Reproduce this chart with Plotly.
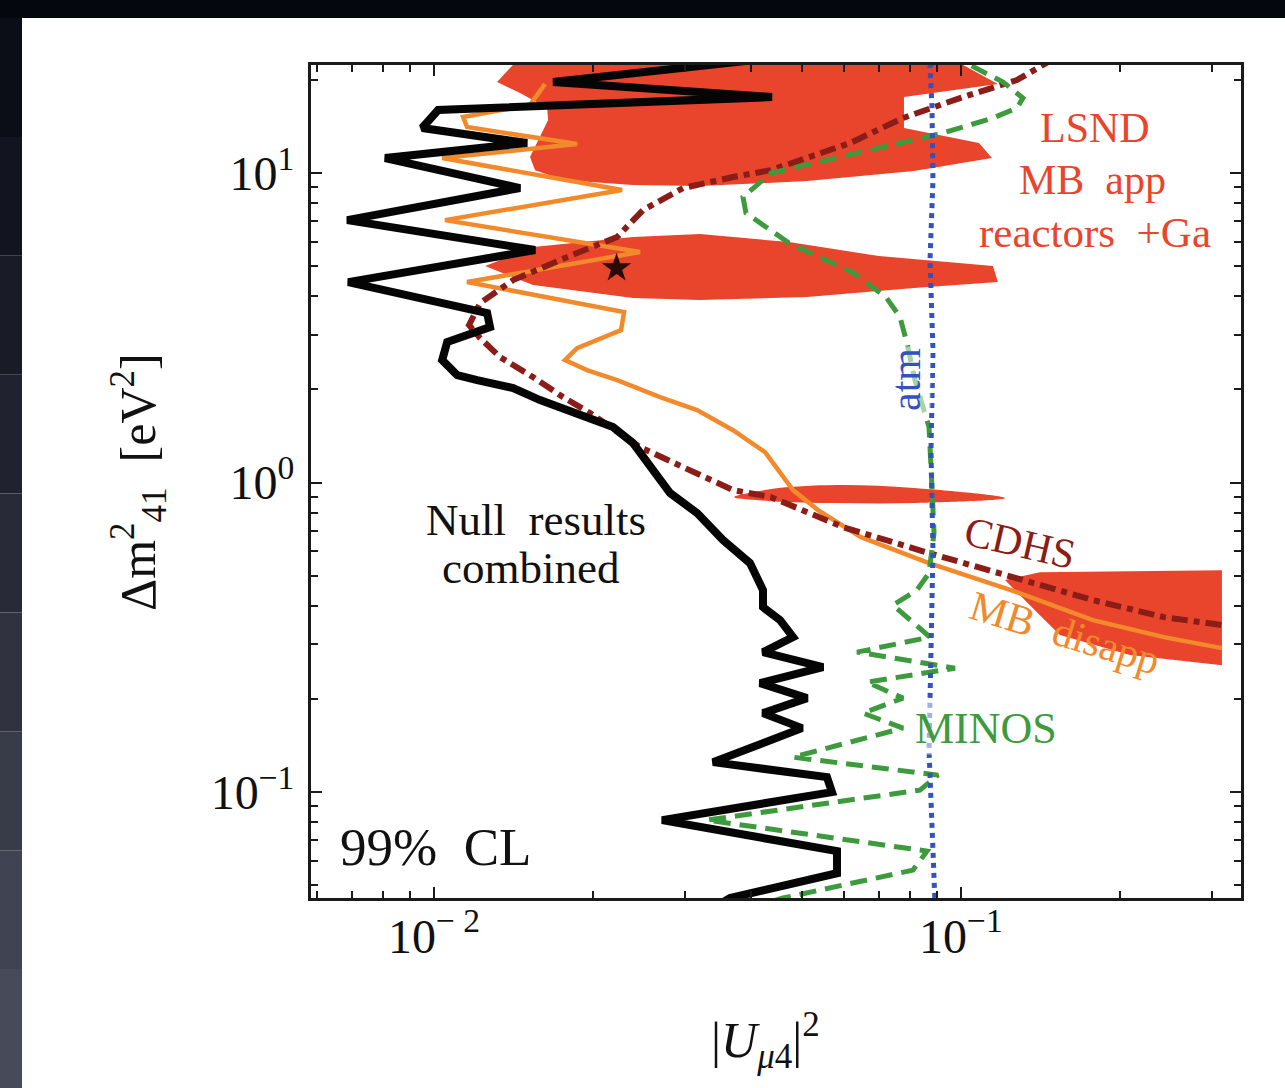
import math
import plotly.graph_objects as go

# ---------------- data ----------------
X_RANGE = [0.00584, 0.340]
Y_RANGE = [0.0455, 22.34]

X_TICKS = [0.01, 0.1]
X_TICKTEXT = ["10<sup>\u2212 2</sup>", "10<sup>\u22121</sup>"]
Y_TICKS = [0.1, 1, 10]
Y_TICKTEXT = ["10<sup>\u22121</sup>", "10<sup>0</sup>", "10<sup>1</sup>"]

# Null results combined (black)
NULL_X = [0.0495, 0.01682, 0.0438, 0.01018, 0.00949, 0.01502, 0.00807, 0.01456, 0.00684, 0.01555,
          0.00687, 0.01261, 0.01277, 0.01059, 0.01036, 0.01106, 0.01207, 0.01413, 0.01589, 0.01836,
          0.02186, 0.02386, 0.0257, 0.02805, 0.03156, 0.03535, 0.03977, 0.04101, 0.0421, 0.0421,
          0.04535, 0.048, 0.0421, 0.05472, 0.04155, 0.05104, 0.0421, 0.04993, 0.03384, 0.05568,
          0.05691, 0.02708, 0.05817, 0.05817, 0.03645, 0.0334]
NULL_Y = [24.06, 19.68, 17.60, 15.98, 13.98, 12.50, 11.18, 8.944, 7.047, 5.639,
          4.444, 3.529, 3.180, 2.844, 2.488, 2.225, 2.144, 2.020, 1.847, 1.690,
          1.511, 1.342, 1.122, 0.925, 0.797, 0.652, 0.5495, 0.4842, 0.4495, 0.396,
          0.3594, 0.3168, 0.2834, 0.2534, 0.2250, 0.2012, 0.18, 0.161, 0.125, 0.1118,
          0.1, 0.0812, 0.0645, 0.0547, 0.0455, 0.0416]

# MiniBooNE disappearance (orange)
MB_X = [0.01624, 0.01521, 0.01135, 0.01155, 0.01868, 0.01036, 0.02274, 0.01049, 0.0246, 0.01155,
        0.02294, 0.02264, 0.01868, 0.01772, 0.01951, 0.02225, 0.02685, 0.03156, 0.03693, 0.04248,
        0.048, 0.05354, 0.0646, 0.08697, 0.1244, 0.178, 0.2428, 0.3128]
MB_Y = [19.4, 16.6, 15.17, 14.08, 12.41, 11.18, 8.81, 7.047, 5.556, 4.444,
        3.556, 3.110, 2.720, 2.488, 2.309, 2.144, 1.889, 1.715, 1.477, 1.254,
        0.9458, 0.815, 0.6666, 0.5495, 0.4495, 0.3594, 0.3168, 0.2919]

# CDHS (dark red dash-dot)
CDHS_X = [0.1508, 0.1277, 0.09956, 0.07761, 0.06157, 0.0436, 0.03693, 0.02968, 0.02492, 0.02225,
          0.01788, 0.01413, 0.01223, 0.01165, 0.01223, 0.01334, 0.01541, 0.01757, 0.01977, 0.0246,
          0.02968, 0.03693, 0.0436, 0.05973, 0.08697, 0.1244, 0.178, 0.2428, 0.3141]
CDHS_Y = [23.53, 19.98, 17.47, 15.06, 12.50, 10.22, 9.707, 8.944, 7.595, 6.213,
          5.353, 4.511, 3.802, 3.228, 2.930, 2.544, 2.192, 1.889, 1.677, 1.302,
          1.122, 0.9458, 0.8977, 0.7179, 0.5919, 0.4951, 0.4173, 0.3675, 0.3464]

# MINOS (green dashed)
MINOS_X = [0.0945, 0.104, 0.1202, 0.1311, 0.1277, 0.115, 0.09244, 0.06431, 0.0436, 0.03857,
           0.03908, 0.04717, 0.06266, 0.07205, 0.07661, 0.07899, 0.08178, 0.08395, 0.08697, 0.0881,
           0.08889, 0.08697, 0.0825, 0.0743, 0.08735, 0.06349, 0.09741, 0.06632, 0.07761, 0.06517,
           0.07761, 0.048, 0.09045, 0.08359, 0.03296, 0.08621, 0.08109, 0.04595, 0.04155]
MINOS_Y = [24.06, 22.34, 19.68, 17.47, 16.22, 15.06, 13.47, 11.69, 10.0, 8.366,
           7.427, 5.940, 4.752, 3.975, 3.425, 2.823, 2.144, 1.847, 1.511, 0.9672,
           0.6867, 0.5102, 0.4495, 0.4020, 0.3168, 0.2834, 0.2515, 0.2266, 0.2012, 0.18,
           0.161, 0.1297, 0.1135, 0.1015, 0.0812, 0.0645, 0.0560, 0.0455, 0.0432]

# atmospheric (blue dotted)
ATM_X = [0.09006, 0.08735, 0.0881, 0.08848, 0.08735, 0.08848, 0.08773, 0.08848, 0.08773, 0.08697, 0.08848, 0.0893]
ATM_Y = [24.06, 22.0, 16.34, 9.493, 5.235, 2.681, 1.274, 0.605, 0.2875, 0.1367, 0.065, 0.0432]

# LSND + MB app + reactors + Ga allowed regions (red)
TOP_X = [0.01469, 0.01317, 0.01456, 0.01639, 0.01646, 0.01589, 0.01521, 0.01555, 0.01757, 0.02386,
         0.03197, 0.05104, 0.08143, 0.1145, 0.1082, 0.07795, 0.07795, 0.1175, 0.09324]
TOP_Y = [24.06, 19.68, 18.14, 16.22, 14.83, 13.07, 11.26, 10.22, 9.493, 9.146,
         9.078, 9.423, 10.15, 11.18, 12.50, 13.98, 17.60, 19.39, 24.06]
MID_X = [0.0125, 0.01541, 0.02386, 0.03197, 0.04717, 0.06988, 0.115, 0.1175, 0.08143, 0.05104, 0.03197, 0.02386, 0.01541]
MID_Y = [5.006, 5.767, 6.213, 6.353, 5.985, 5.393, 5.006, 4.444, 4.250, 3.975, 3.888, 3.946, 4.346]
SLIVER_X = [0.03709, 0.0436, 0.0579, 0.08143, 0.1212, 0.08143, 0.0579, 0.0436]
SLIVER_Y = [0.8977, 0.9528, 0.9815, 0.9598, 0.8910, 0.8587, 0.8587, 0.8712]
BR_X = [0.1212, 0.1412, 0.3128, 0.3128, 0.2093, 0.1541, 0.1412, 0.1266]
BR_Y = [0.4842, 0.5137, 0.5214, 0.2572, 0.2772, 0.3216, 0.3730, 0.4495]

BEST_X = [0.0222]
BEST_Y = [4.93]

# ---------------- styles ----------------
RED = "#e8452c"
ORANGE = "#f28a2c"
CDHS_C = "#8b1d18"
GREEN = "#3d9b3d"
BLUE = "#3352c0"
FONT = "Liberation Serif"

fig = go.Figure()

for xs, ys, shp in [(TOP_X, TOP_Y, "linear"), (MID_X, MID_Y, "linear"),
                    (SLIVER_X, SLIVER_Y, "spline"), (BR_X, BR_Y, "linear")]:
    fig.add_trace(go.Scatter(x=xs + xs[:1], y=ys + ys[:1], mode="lines", fill="toself",
                             fillcolor=RED, line=dict(width=0, color=RED, shape=shp),
                             hoverinfo="skip", showlegend=False))

fig.add_trace(go.Scatter(x=MB_X, y=MB_Y, mode="lines",
                         line=dict(color=ORANGE, width=4.5), showlegend=False))
fig.add_trace(go.Scatter(x=CDHS_X, y=CDHS_Y, mode="lines",
                         line=dict(color=CDHS_C, width=6, dash="16px,6px,6px,6px"), showlegend=False))
fig.add_trace(go.Scatter(x=MINOS_X, y=MINOS_Y, mode="lines",
                         line=dict(color=GREEN, width=5, dash="17px,9px"), showlegend=False))
fig.add_trace(go.Scatter(x=ATM_X, y=ATM_Y, mode="lines",
                         line=dict(color=BLUE, width=5, dash="5px,5px"), showlegend=False))
fig.add_trace(go.Scatter(x=NULL_X, y=NULL_Y, mode="lines",
                         line=dict(color="#050505", width=8), showlegend=False))
fig.add_trace(go.Scatter(x=BEST_X, y=BEST_Y, mode="markers",
                         marker=dict(symbol="star", size=22, color="#2a0a08"), showlegend=False))


def minor_vals(lo, hi):
    vals = []
    for e in range(-4, 3):
        for k in range(2, 10):
            v = k * 10 ** e
            if lo < v < hi:
                vals.append(v)
    return vals


axis_common = dict(
    type="log", showgrid=False, zeroline=False,
    showline=True, linewidth=3, linecolor="#1a1a1a", mirror="allticks",
    ticks="inside", ticklen=11, tickwidth=2, tickcolor="#1a1a1a",
    tickfont=dict(family=FONT, size=48, color="#111"),
)

fig.update_xaxes(
    **axis_common,
    range=[math.log10(X_RANGE[0]), math.log10(X_RANGE[1])],
    tickmode="array", tickvals=X_TICKS, ticktext=X_TICKTEXT,
    minor=dict(ticks="inside", ticklen=7, tickwidth=2, tickcolor="#1a1a1a",
               tickmode="array", tickvals=minor_vals(*X_RANGE)),
    ticklabelstandoff=-6,
)
fig.update_yaxes(
    **axis_common,
    range=[math.log10(Y_RANGE[0]), math.log10(Y_RANGE[1])],
    tickmode="array", tickvals=Y_TICKS, ticktext=Y_TICKTEXT,
    minor=dict(ticks="inside", ticklen=7, tickwidth=2, tickcolor="#1a1a1a",
               tickmode="array", tickvals=minor_vals(*Y_RANGE)),
    ticklabelstandoff=4,
)

W, H = 1285, 1088
ML, MR, MT, MB_ = 311, 44, 65, 190
PW, PH = W - ML - MR, H - MT - MB_


def px(xp):
    return (xp - ML) / PW


def py(yp):
    return (H - MB_ - yp) / PH


annotations = [
    dict(text="LSND", x=px(1095), y=py(128), color=RED, size=42),
    dict(text="MB  app", x=px(1092), y=py(180), color=RED, size=42),
    dict(text="reactors  +Ga", x=px(1095), y=py(233), color=RED, size=43),
    dict(text="Null  results", x=px(536), y=py(520), color="#111", size=45),
    dict(text="combined", x=px(530), y=py(568), color="#111", size=45),
    dict(text="CDHS", x=px(1020), y=py(543), color=CDHS_C, size=42, angle=13),
    dict(text="MB  disapp", x=px(1065), y=py(633), color=ORANGE, size=42, angle=17),
    dict(text="MINOS", x=px(986), y=py(728), color=GREEN, size=44, bg="rgba(255,255,255,0.55)"),
    dict(text="atm", x=px(906), y=py(380), color=BLUE, size=42, angle=-90, bg="rgba(255,255,255,0.55)"),
    dict(text="|<i>U</i><sub><i>\u03bc</i>4</sub>|<sup>2</sup>", x=px(765), y=py(1040), color="#111", size=50),
    dict(text="\u0394m<sup>2</sup><sub>41</sub>  [eV<sup>2</sup>]", x=px(138), y=py(482), color="#111", size=50, angle=-90),
]
for a in annotations:
    fig.add_annotation(
        text=a["text"], x=a["x"], y=a["y"], xref="paper", yref="paper",
        showarrow=False, xanchor="center", yanchor="middle",
        textangle=a.get("angle", 0),
        bgcolor=a.get("bg", "rgba(0,0,0,0)"),
        font=dict(family=FONT, size=a["size"], color=a["color"]),
    )
fig.add_annotation(text="99%  CL", x=px(338), y=py(847), xref="paper", yref="paper",
                   showarrow=False, xanchor="left", yanchor="middle",
                   font=dict(family=FONT, size=53, color="#111"))

# slide-like dark border (top and left)
shapes = [dict(type="rect", xref="paper", yref="paper", x0=px(0), x1=px(W), y0=py(18), y1=py(0),
               fillcolor="#05070e", line=dict(width=0), layer="below")]
left_cols = ["#0b0e17", "#12151f", "#191c27", "#20232f", "#282b37", "#30333f", "#383b48", "#404351", "#474a58"]
n = len(left_cols)
for i, c in enumerate(left_cols):
    shapes.append(dict(type="rect", xref="paper", yref="paper", x0=px(0), x1=px(22),
                       y0=py(18 + (H - 18) * (i + 1) / n), y1=py(18 + (H - 18) * i / n),
                       fillcolor=c, line=dict(width=0), layer="below"))
fig.update_layout(shapes=shapes)

fig.update_layout(
    width=W, height=H,
    margin=dict(l=ML, r=MR, t=MT, b=MB_),
    paper_bgcolor="white", plot_bgcolor="white",
    showlegend=False,
)

fig.write_html("out.html",
               config={"displayModeBar": False},
               post_script="document.body.style.margin='0px';document.body.style.overflow='hidden';")
